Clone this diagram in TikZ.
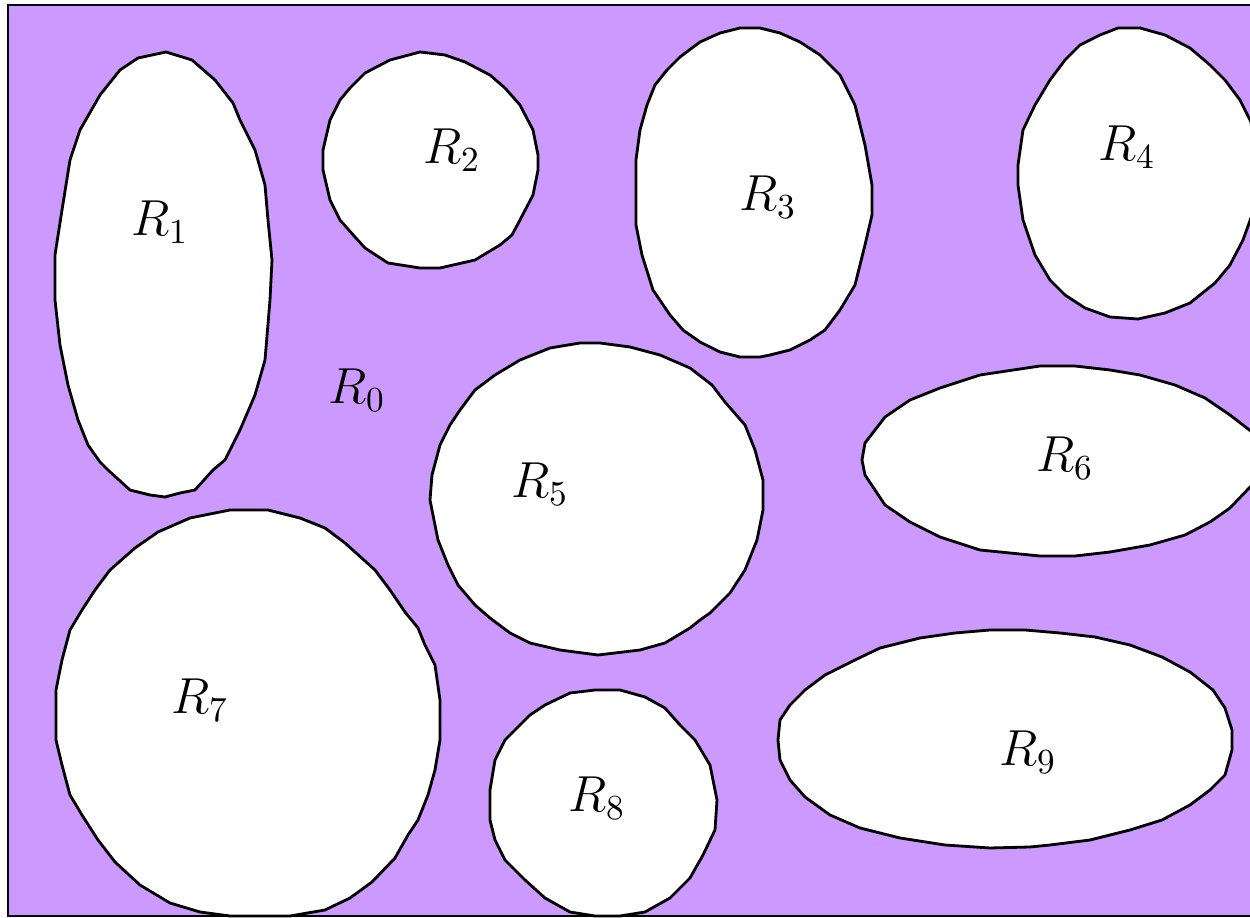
\documentclass[tikz,border=0pt]{standalone}
\usepackage{xcolor}
\definecolor{regionPurple}{HTML}{CC99FF}
\usetikzlibrary{positioning}
\tikzset{%
  domainFrame/.style={draw=black, thick, fill=regionPurple},
  blobRegion/.style={draw=black, thick, fill=white, line join=round},
  regionLabel/.style={font=\Large},
}

\begin{document}
\begin{tikzpicture}[x=0.01cm, y=-0.01cm]
  \useasboundingbox (0,0) rectangle (1250,918);
  \draw[domainFrame] (8,5) rectangle (1265,916);
  % R1
  \draw[blobRegion] (166,52) -- (138,58) -- (120,70) -- (100,95) -- (80,130) -- (70,160) -- (62,210) -- (55,255) -- (55,300) -- (60,345) -- (68,385) -- (78,420) -- (88,445) -- (100,462) -- (108,470) -- (130,490) -- (150,495) -- (165,497) -- (180,493) -- (195,490) -- (213,470) -- (225,460) -- (240,430) -- (255,395) -- (265,360) -- (270,300) -- (272,260) -- (268,220) -- (265,185) -- (255,150) -- (240,120) -- (233,103) -- (215,80) -- (192,60) -- cycle;
  % R2
  \draw[blobRegion] (420,52) -- (390,60) -- (365,73) -- (350,88) -- (340,100) -- (330,120) -- (323,150) -- (323,170) -- (330,200) -- (340,220) -- (355,237) -- (365,248) -- (388,263) -- (420,268) -- (440,268) -- (475,260) -- (500,245) -- (512,235) -- (520,220) -- (533,195) -- (538,170) -- (538,155) -- (533,130) -- (520,105) -- (505,88) -- (490,75) -- (465,62) -- (445,55) -- cycle;
  % R3
  \draw[blobRegion] (740,28) -- (760,28) -- (780,33) -- (800,42) -- (820,55) -- (840,75) -- (855,105) -- (865,145) -- (872,185) -- (872,215) -- (865,245) -- (855,285) -- (840,310) -- (825,330) -- (810,340) -- (790,350) -- (770,355) -- (760,357) -- (740,357) -- (720,352) -- (700,342) -- (683,330) -- (670,315) -- (653,290) -- (642,255) -- (636,225) -- (636,195) -- (636,160) -- (640,130) -- (647,105) -- (655,85) -- (667,70) -- (680,57) -- (700,42) -- (720,33) -- cycle;
  % R4
  \draw[blobRegion] (1118,28) -- (1100,35) -- (1080,45) -- (1065,60) -- (1050,80) -- (1035,105) -- (1023,130) -- (1018,165) -- (1018,185) -- (1023,220) -- (1035,255) -- (1050,280) -- (1065,295) -- (1085,308) -- (1110,317) -- (1138,319) -- (1165,313) -- (1190,303) -- (1215,283) -- (1230,265) -- (1243,240) -- (1252,215) -- (1256,165) -- (1251,122) -- (1240,100) -- (1225,80) -- (1210,65) -- (1190,48) -- (1165,35) -- (1140,28) -- cycle;
  % R5
  \draw[blobRegion] (580,343) -- (600,343) -- (630,347) -- (660,355) -- (690,368) -- (712,385) -- (725,402) -- (745,425) -- (755,450) -- (763,480) -- (763,510) -- (757,540) -- (745,570) -- (730,593) -- (710,613) -- (700,620) -- (690,628) -- (665,643) -- (640,650) -- (598,655) -- (560,650) -- (530,643) -- (510,633) -- (490,618) -- (475,605) -- (458,585) -- (448,565) -- (438,540) -- (430,500) -- (432,475) -- (440,445) -- (450,425) -- (460,410) -- (475,390) -- (495,375) -- (520,360) -- (550,348) -- cycle;
  % R6
  \draw[blobRegion] (1075,366) -- (1040,366) -- (980,375) -- (940,388) -- (910,400) -- (885,417) -- (875,430) -- (865,443) -- (862,460) -- (865,475) -- (875,490) -- (885,505) -- (910,522) -- (940,537) -- (980,550) -- (1040,556) -- (1075,556) -- (1110,552) -- (1150,545) -- (1185,535) -- (1210,522) -- (1230,508) -- (1252,485) -- (1258,460) -- (1252,432) -- (1230,415) -- (1205,398) -- (1175,385) -- (1140,375) -- (1110,370) -- cycle;
  % R7
  \draw[blobRegion] (230,510) -- (268,510) -- (300,518) -- (325,528) -- (345,543) -- (375,570) -- (390,590) -- (405,612) -- (418,628) -- (425,645) -- (435,665) -- (440,700) -- (440,740) -- (435,770) -- (428,795) -- (418,820) -- (408,835) -- (395,858) -- (372,882) -- (350,898) -- (325,910) -- (290,916) -- (230,916) -- (200,912) -- (170,903) -- (140,885) -- (115,862) -- (98,840) -- (82,815) -- (70,795) -- (62,765) -- (56,740) -- (56,690) -- (62,660) -- (70,630) -- (82,610) -- (95,590) -- (110,570) -- (135,548) -- (158,532) -- (190,518) -- cycle;
  % R8
  \draw[blobRegion] (595,690) -- (620,690) -- (645,697) -- (665,708) -- (680,725) -- (695,740) -- (710,765) -- (717,800) -- (715,830) -- (703,855) -- (690,878) -- (670,898) -- (645,912) -- (620,916) -- (595,916) -- (570,912) -- (545,898) -- (525,880) -- (505,860) -- (495,840) -- (490,820) -- (490,790) -- (495,760) -- (505,740) -- (518,727) -- (530,715) -- (545,705) -- (570,693) -- cycle;
  % R9
  \draw[blobRegion] (990,630) -- (1025,630) -- (1060,633) -- (1095,637) -- (1130,645) -- (1162,657) -- (1190,672) -- (1213,690) -- (1225,708) -- (1232,730) -- (1232,750) -- (1225,775) -- (1210,790) -- (1190,805) -- (1162,820) -- (1130,830) -- (1090,840) -- (1050,845) -- (1030,847) -- (990,848) -- (945,845) -- (900,838) -- (860,828) -- (830,815) -- (805,797) -- (790,780) -- (780,760) -- (778,740) -- (780,720) -- (790,705) -- (805,690) -- (825,675) -- (855,660) -- (880,648) -- (920,638) -- (955,633) -- cycle;
  % labels
  \node[regionLabel] (r0) at (357,390) {$R_0$};
  \node[regionLabel] (r1) at (160,222) {$R_1$};
  \node[regionLabel] (r2) at (452,150) {$R_2$};
  \node[regionLabel] (r3) at (768,197) {$R_3$};
  \node[regionLabel] (r4) at (1127,147) {$R_4$};
  \node[regionLabel] (r5) at (540,484) {$R_5$};
  \node[regionLabel] (r6) at (1065,458) {$R_6$};
  \node[regionLabel] (r7) at (200,700) {$R_7$};
  \node[regionLabel] (r8) at (597,798) {$R_8$};
  \node[regionLabel] (r9) at (1028,752) {$R_9$};
\end{tikzpicture}
\end{document}
